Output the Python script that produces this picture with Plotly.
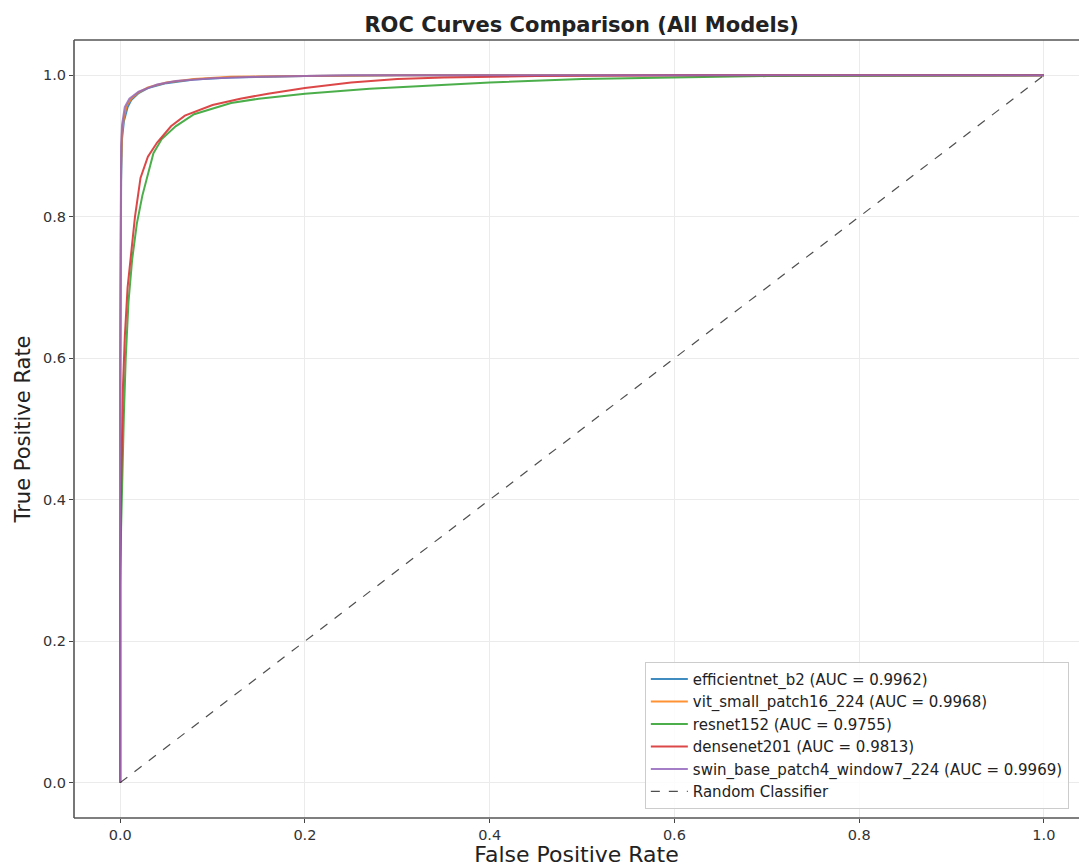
import plotly.graph_objects as go

model_names = ["efficientnet_b2", "vit_small_patch16_224", "resnet152", "densenet201", "swin_base_patch4_window7_224"]
auc_values = [0.9962, 0.9968, 0.9755, 0.9813, 0.9969]
colors = ["#1f77b4", "#ff7f0e", "#2ca02c", "#d62728", "#9467bd"]

effnet_fpr = [0, 0, 0.001, 0.002, 0.004, 0.008, 0.012, 0.02, 0.03, 0.05, 0.08, 0.12, 0.2, 0.3, 0.5, 1.0]
effnet_tpr = [0, 0.5, 0.85, 0.91, 0.935, 0.955, 0.965, 0.975, 0.982, 0.989, 0.994, 0.997, 0.999, 1.0, 1.0, 1.0]

vit_fpr = [0, 0, 0.001, 0.002, 0.004, 0.007, 0.012, 0.02, 0.03, 0.05, 0.08, 0.12, 0.2, 0.3, 0.5, 1.0]
vit_tpr = [0, 0.55, 0.87, 0.92, 0.94, 0.957, 0.967, 0.976, 0.983, 0.99, 0.995, 0.998, 0.999, 1.0, 1.0, 1.0]

resnet_fpr = [0, 0, 0.001, 0.002, 0.004, 0.006, 0.009, 0.013, 0.018, 0.024, 0.03, 0.036, 0.045, 0.06,
              0.08, 0.1, 0.12, 0.15, 0.2, 0.27, 0.35, 0.4, 0.5, 0.6, 0.7, 1.0]
resnet_tpr = [0, 0.28, 0.36, 0.42, 0.52, 0.6, 0.68, 0.74, 0.79, 0.83, 0.862, 0.89, 0.91, 0.928,
              0.945, 0.953, 0.961, 0.967, 0.974, 0.981, 0.986, 0.99, 0.995, 0.997, 0.999, 1.0]

densenet_fpr = [0, 0, 0.001, 0.002, 0.003, 0.005, 0.008, 0.012, 0.016, 0.022, 0.03, 0.04, 0.055, 0.07,
                0.1, 0.13, 0.16, 0.2, 0.25, 0.3, 0.35, 0.45, 0.6, 1.0]
densenet_tpr = [0, 0.3, 0.42, 0.5, 0.56, 0.63, 0.7, 0.75, 0.8, 0.855, 0.885, 0.905, 0.928, 0.943,
                0.958, 0.967, 0.974, 0.982, 0.99, 0.995, 0.997, 0.999, 1.0, 1.0]

swin_fpr = [0, 0, 0.001, 0.002, 0.005, 0.01, 0.02, 0.04, 0.06, 0.1, 0.15, 0.25, 1.0]
swin_tpr = [0, 0.6, 0.9, 0.93, 0.955, 0.967, 0.977, 0.987, 0.992, 0.996, 0.998, 1.0, 1.0]

all_fpr = [effnet_fpr, vit_fpr, resnet_fpr, densenet_fpr, swin_fpr]
all_tpr = [effnet_tpr, vit_tpr, resnet_tpr, densenet_tpr, swin_tpr]

diag_x = [0, 1]
diag_y = [0, 1]

x_ticks = [0.0, 0.2, 0.4, 0.6, 0.8, 1.0]
y_ticks = [0.0, 0.2, 0.4, 0.6, 0.8, 1.0]

fig = go.Figure()
for i, name in enumerate(model_names):
    fig.add_trace(go.Scatter(
        x=all_fpr[i], y=all_tpr[i], mode="lines",
        name=f"{name} (AUC = {auc_values[i]:.4f})",
        line=dict(color=colors[i], width=2), opacity=0.85,
        legendgroup=f"g{i}",
    ))
fig.add_trace(go.Scatter(
    x=diag_x, y=diag_y, mode="lines", name="Random Classifier",
    line=dict(color="#222222", width=1.2, dash="dash"), opacity=0.8,
    legendgroup="g5",
))

axis_common = dict(
    showgrid=True, gridcolor="#ebebeb", gridwidth=1,
    zeroline=False, showline=False,
    ticks="outside", ticklen=4, tickcolor="#444444",
    tickfont=dict(family="DejaVu Sans", size=14.5, color="#333333"),
    tickformat=".1f",
)

frame = dict(type="line", xref="paper", yref="paper", line=dict(color="#555555", width=1.6))
fig.add_shape(x0=0, y0=0, x1=1.0, y1=0, **frame)
fig.add_shape(x0=0, y0=1, x1=1.0, y1=1, **frame)
fig.add_shape(x0=0, y0=0, x1=0, y1=1, **frame)

fig.update_layout(
    width=1079, height=867,
    margin=dict(l=74, r=0, t=40, b=49),
    paper_bgcolor="white", plot_bgcolor="white",
    font=dict(family="DejaVu Sans", color="#222222"),
    title=dict(text="<b>ROC Curves Comparison (All Models)</b>", x=0.539, xanchor="center",
               y=0.971, yanchor="middle", font=dict(size=21, color="#222222")),
    xaxis=dict(range=[-0.05, 1.038], tickvals=x_ticks, automargin=False,
               title=dict(text="False Positive Rate", font=dict(size=22), standoff=9),
               **axis_common),
    yaxis=dict(range=[-0.05, 1.05], tickvals=y_ticks,
               title=dict(text="True Positive Rate", font=dict(size=21), standoff=6),
               **axis_common),
    legend=dict(x=0.568, xanchor="left", y=0.012, yanchor="bottom",
                bgcolor="rgba(255,255,255,0.85)", bordercolor="#cccccc", borderwidth=1,
                font=dict(family="DejaVu Sans", size=15, color="#222222"),
                tracegroupgap=0, itemwidth=37),
    showlegend=True,
    hovermode=False,
)

fig.write_html("out.html", config={"staticPlot": True, "displayModeBar": False})
